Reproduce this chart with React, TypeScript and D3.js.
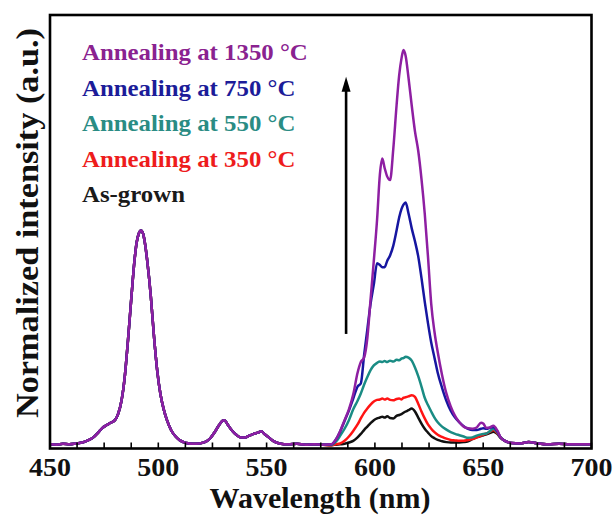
import React from "react";
import * as d3 from "d3";

// ---------- data ----------
// shared part of every spectrum (450-576 nm)
const commonWl = [450, 453, 456, 459, 462, 465, 468, 470, 472, 474, 476, 478, 480, 481.5, 483, 484.5, 486, 487.5, 489, 490, 491, 492, 493, 494, 495, 496.5, 498, 499.5, 501, 502.5, 504, 506, 508, 510, 513, 516, 519, 522, 524, 526, 528, 529.5, 530.5, 532, 534, 536, 538, 540, 542, 544, 546, 547.5, 549, 551, 553, 556, 560, 564, 568, 572, 576];
const commonI = [0.004, 0.003, 0.005, 0.004, 0.006, 0.008, 0.014, 0.02, 0.03, 0.041, 0.048, 0.054, 0.06, 0.075, 0.105, 0.16, 0.245, 0.34, 0.43, 0.472, 0.493, 0.5, 0.492, 0.465, 0.425, 0.35, 0.255, 0.175, 0.12, 0.085, 0.06, 0.036, 0.022, 0.013, 0.007, 0.005, 0.006, 0.01, 0.018, 0.032, 0.048, 0.058, 0.06, 0.05, 0.036, 0.026, 0.02, 0.02, 0.024, 0.028, 0.031, 0.034, 0.028, 0.02, 0.012, 0.006, 0.004, 0.005, 0.003, 0.004, 0.003];

// red-emission region (580-660 nm)
const rightWl = [580, 582, 584, 586, 588, 590, 592, 593.5, 595, 596.5, 598, 599.5, 601, 602.3, 603.4, 604.5, 605.7, 607, 608.5, 610, 611.2, 612.3, 613.2, 614.2, 615.5, 617, 618.5, 620, 621.5, 623, 624.5, 626, 627.5, 629, 631, 633, 635, 637, 639, 641, 643, 645, 647, 649, 650, 651.5, 653, 654.7, 656.5, 658, 660];
const i1350 = [0.004, 0.015, 0.035, 0.06, 0.085, 0.12, 0.17, 0.195, 0.205, 0.25, 0.34, 0.43, 0.525, 0.63, 0.667, 0.645, 0.625, 0.617, 0.69, 0.79, 0.86, 0.9, 0.919, 0.905, 0.855, 0.79, 0.73, 0.685, 0.62, 0.54, 0.44, 0.33, 0.265, 0.218, 0.165, 0.122, 0.092, 0.07, 0.055, 0.045, 0.041, 0.04, 0.043, 0.054, 0.052, 0.042, 0.043, 0.047, 0.036, 0.02, 0.012];
const i750 = [0.004, 0.015, 0.034, 0.058, 0.082, 0.11, 0.138, 0.145, 0.21, 0.27, 0.33, 0.375, 0.424, 0.42, 0.415, 0.415, 0.43, 0.442, 0.465, 0.5, 0.53, 0.55, 0.56, 0.565, 0.54, 0.505, 0.475, 0.44, 0.39, 0.335, 0.285, 0.24, 0.205, 0.17, 0.135, 0.105, 0.082, 0.066, 0.055, 0.046, 0.04, 0.037, 0.037, 0.04, 0.041, 0.04, 0.042, 0.044, 0.034, 0.02, 0.012];
const i550 = [0.003, 0.01, 0.024, 0.04, 0.06, 0.085, 0.105, 0.122, 0.142, 0.16, 0.176, 0.187, 0.193, 0.196, 0.195, 0.197, 0.195, 0.198, 0.196, 0.2, 0.199, 0.203, 0.204, 0.207, 0.205, 0.198, 0.182, 0.162, 0.138, 0.112, 0.095, 0.08, 0.066, 0.055, 0.045, 0.038, 0.032, 0.028, 0.025, 0.022, 0.019, 0.02, 0.024, 0.027, 0.028, 0.029, 0.034, 0.04, 0.032, 0.02, 0.012];
const i350 = [0.002, 0.004, 0.006, 0.012, 0.022, 0.035, 0.05, 0.064, 0.077, 0.087, 0.096, 0.103, 0.107, 0.108, 0.11, 0.108, 0.11, 0.107, 0.106, 0.109, 0.11, 0.108, 0.112, 0.113, 0.115, 0.118, 0.114, 0.098, 0.08, 0.064, 0.05, 0.04, 0.032, 0.026, 0.021, 0.017, 0.014, 0.013, 0.012, 0.012, 0.014, 0.016, 0.02, 0.024, 0.026, 0.029, 0.033, 0.037, 0.03, 0.02, 0.012];
const iGrown = [0.002, 0.003, 0.004, 0.005, 0.008, 0.012, 0.02, 0.028, 0.037, 0.045, 0.053, 0.06, 0.064, 0.066, 0.068, 0.066, 0.069, 0.065, 0.064, 0.07, 0.072, 0.074, 0.077, 0.08, 0.083, 0.087, 0.08, 0.066, 0.052, 0.04, 0.031, 0.023, 0.018, 0.014, 0.011, 0.009, 0.008, 0.008, 0.008, 0.009, 0.011, 0.016, 0.02, 0.023, 0.025, 0.027, 0.03, 0.033, 0.028, 0.019, 0.012];

// shared tail (663-700 nm)
const tailWl = [663, 667, 671, 675, 680, 685, 690, 695, 700];
const tailI = [0.007, 0.006, 0.009, 0.006, 0.004, 0.005, 0.004, 0.004, 0.004];

const seriesNames = ["As-grown", "Annealing at 350", "Annealing at 550", "Annealing at 750", "Annealing at 1350"];
const seriesColors = ["#111111", "#ff1414", "#1a8c84", "#1616a0", "#8e1fa2"];
const seriesRight = [iGrown, i350, i550, i750, i1350];

const legendOrder = [4, 3, 2, 1, 0];
const legendColors = ["#1a1a1a", "#ee1c1c", "#2a8c84", "#1c1c99", "#8a2290"];

const xTicks = [450, 500, 550, 600, 650, 700];
const xMinorStep = 12.5;

const FONT = "'Liberation Serif', 'Times New Roman', serif";

export default function App() {
  const W = 613, H = 515;
  const left = 50, right = 591.5, top = 15, bottom = 448.5;
  const x = d3.scaleLinear().domain([450, 700]).range([left, right]);
  const y = d3.scaleLinear().domain([0, 1]).range([446, top]);

  const line = d3
    .line<[number, number]>()
    .x((d) => x(d[0]))
    .y((d) => y(d[1]))
    .curve(d3.curveMonotoneX);

  const series = seriesRight.map((vals) => {
    const pts: [number, number][] = [];
    commonWl.forEach((w, i) => pts.push([w, commonI[i]]));
    rightWl.forEach((w, i) => pts.push([w, vals[i]]));
    tailWl.forEach((w, i) => pts.push([w, tailI[i]]));
    return pts;
  });

  const minorTicks = d3.range(450, 700.01, xMinorStep);

  const arrowX = x(586.7);
  const arrowTop = y(0.857);
  const arrowBottom = y(0.26);

  return (
    <svg
      width={W}
      height={H}
      style={{ position: "absolute", left: 0, top: 0, background: "#fff" }}
      fontFamily={FONT}
    >
      <defs>
        <clipPath id="plotClip">
          <rect x={left} y={top} width={right - left} height={bottom - top} />
        </clipPath>
      </defs>
      <rect x={0} y={0} width={W} height={H} fill="#fff" />

      <g clipPath="url(#plotClip)">
        {series.map((pts, i) => (
          <path
            key={i}
            d={line(pts) || ""}
            fill="none"
            stroke={seriesColors[i]}
            strokeWidth={2.5}
            strokeLinejoin="round"
          />
        ))}
      </g>

      {/* ticks (inside, bottom axis) */}
      {minorTicks.map((t) => (
        <line key={t} x1={x(t)} x2={x(t)} y1={bottom} y2={bottom - 6} stroke="#000" strokeWidth={1.6} />
      ))}

      {/* frame */}
      <rect x={left} y={top} width={right - left} height={bottom - top} fill="none" stroke="#000" strokeWidth={2.6} />

      {/* tick labels */}
      {xTicks.map((t) => (
        <text
          key={t}
          transform={`translate(${x(t)}, 475.5) scale(1.12, 1)`}
          textAnchor="middle"
          fontSize={25}
          fontWeight="bold"
          fill="#111"
        >
          {t}
        </text>
      ))}

      <text x={320} y={508} textAnchor="middle" fontSize={30} fontWeight="bold" fill="#111">
        Wavelength (nm)
      </text>
      <text
        transform={`translate(38, 223) rotate(-90)`}
        textAnchor="middle"
        fontSize={31.5}
        fontWeight="bold"
        fill="#111"
        textLength={390}
        lengthAdjust="spacingAndGlyphs"
      >
        Normalized intensity (a.u.)
      </text>

      {/* arrow */}
      <line x1={arrowX} x2={arrowX} y1={arrowBottom} y2={arrowTop + 10} stroke="#000" strokeWidth={2.6} />
      <path
        d={`M${arrowX},${arrowTop} L${arrowX - 4.5},${arrowTop + 15} L${arrowX + 4.5},${arrowTop + 15} Z`}
        fill="#000"
      />

      {/* legend */}
      {legendOrder.map((si, k) => {
        const name = seriesNames[si];
        const yy = 60 + k * 35.5;
        return (
          <text
            key={si}
            transform={`translate(82, ${yy}) scale(1.08, 1)`}
            fontSize={23}
            fontWeight="bold"
            fill={legendColors[si]}
          >
            {si === 0 ? (
              name
            ) : (
              <>
                {name + " "}
                <tspan>°</tspan>
                <tspan>C</tspan>
              </>
            )}
          </text>
        );
      })}
    </svg>
  );
}
